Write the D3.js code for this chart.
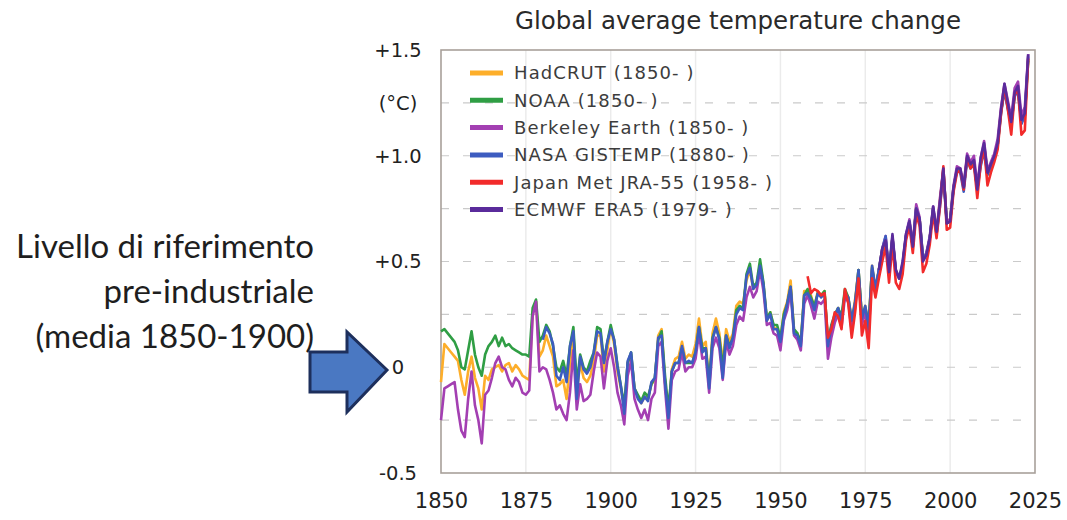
<!DOCTYPE html>
<html>
<head>
<meta charset="utf-8">
<script src="https://cdn.jsdelivr.net/npm/d3@7"></script>
<style>
  body { margin: 0; background: #fff; }
  svg { display: block; }
</style>
</head>
<body>
<svg width="1067" height="520"></svg>
<script>
// anomalies vs 1850-1900 (one value per year from the start year)
const hadcrutStart = 1850
const hadcrut = [
  -0.07, 0.11, 0.09, 0.07, 0.05, 0.03, -0.06, -0.13, -0.02, 0.05,
  -0.05, -0.10, -0.20, -0.04, -0.06, -0.01, 0.00, 0.01, -0.02, 0.01,
  0.02, -0.02, 0.01, -0.01, -0.04, -0.05, -0.06, 0.26, 0.31, 0.05,
  0.08, 0.15, 0.10, 0.05, -0.09, -0.08, -0.06, -0.15, 0.02, 0.15,
  -0.12, 0.02, -0.05, -0.07, -0.04, 0.03, 0.15, 0.15, -0.02, 0.08,
  0.19, 0.11, -0.02, -0.10, -0.19, 0.02, 0.06, -0.10, -0.14, -0.17,
  -0.14, -0.15, -0.08, -0.06, 0.15, 0.18, -0.07, -0.22, -0.01, 0.04,
  0.05, 0.12, 0.04, 0.06, 0.05, 0.11, 0.23, 0.10, 0.12, -0.08,
  0.16, 0.23, 0.16, 0.02, 0.18, 0.12, 0.16, 0.29, 0.31, 0.30,
  0.41, 0.46, 0.37, 0.39, 0.49, 0.39, 0.22, 0.26, 0.19, 0.18,
  0.13, 0.26, 0.31, 0.41, 0.17, 0.16, 0.11, 0.36, 0.36, 0.34,
  0.28, 0.36, 0.34, 0.36, 0.11, 0.19, 0.24, 0.28, 0.23, 0.36,
  0.33, 0.22, 0.32, 0.46, 0.24, 0.29, 0.20, 0.48, 0.37, 0.46,
  0.56, 0.61, 0.44, 0.61, 0.46, 0.42, 0.48, 0.62, 0.68, 0.57,
  0.76, 0.70, 0.52, 0.53, 0.61, 0.75, 0.64, 0.79, 0.93, 0.69,
  0.70, 0.85, 0.93, 0.93, 0.85, 0.99, 0.95, 0.97, 0.84, 0.97,
  1.05, 0.92, 0.95, 0.99, 1.05, 1.21, 1.31, 1.23, 1.15, 1.29,
  1.31, 1.16, 1.19, 1.46
]

const noaaStart = 1850
const noaa = [
  0.17, 0.18, 0.16, 0.14, 0.12, 0.08, 0.00, -0.01, 0.08, 0.17,
  0.06, 0.00, -0.04, 0.06, 0.10, 0.12, 0.15, 0.10, 0.14, 0.10,
  0.11, 0.09, 0.08, 0.07, 0.06, 0.06, 0.05, 0.28, 0.32, 0.12,
  0.15, 0.20, 0.17, 0.10, 0.00, -0.02, 0.03, -0.04, 0.10, 0.19,
  -0.08, 0.06, 0.00, -0.02, 0.03, 0.07, 0.19, 0.18, 0.03, 0.12,
  0.20, 0.13, 0.01, -0.09, -0.18, 0.02, 0.07, -0.10, -0.13, -0.16,
  -0.12, -0.14, -0.08, -0.05, 0.13, 0.17, -0.04, -0.20, -0.02, 0.02,
  0.02, 0.09, 0.02, 0.02, 0.02, 0.07, 0.19, 0.09, 0.09, -0.07,
  0.14, 0.19, 0.14, 0.00, 0.15, 0.10, 0.14, 0.27, 0.29, 0.28,
  0.44, 0.49, 0.38, 0.40, 0.51, 0.40, 0.23, 0.26, 0.20, 0.20,
  0.14, 0.25, 0.30, 0.38, 0.18, 0.16, 0.12, 0.34, 0.37, 0.33,
  0.29, 0.35, 0.34, 0.36, 0.12, 0.20, 0.25, 0.28, 0.24, 0.37,
  0.33, 0.21, 0.30, 0.46, 0.24, 0.28, 0.21, 0.47, 0.37, 0.46,
  0.55, 0.60, 0.45, 0.61, 0.45, 0.42, 0.48, 0.62, 0.68, 0.57,
  0.75, 0.70, 0.51, 0.54, 0.61, 0.75, 0.63, 0.78, 0.93, 0.69,
  0.69, 0.85, 0.93, 0.93, 0.85, 0.99, 0.95, 0.97, 0.84, 0.97,
  1.05, 0.91, 0.95, 0.99, 1.05, 1.21, 1.31, 1.23, 1.15, 1.29,
  1.31, 1.16, 1.19, 1.45
]

const berkeleyStart = 1850
const berkeley = [
  -0.25, -0.10, -0.09, -0.08, -0.07, -0.20, -0.30, -0.33, -0.15, -0.02,
  -0.18, -0.25, -0.36, -0.13, -0.11, -0.05, 0.02, 0.05, 0.00, -0.01,
  -0.06, -0.09, -0.05, -0.07, -0.12, -0.13, -0.11, 0.24, 0.31, -0.02,
  0.00, -0.01, -0.06, -0.12, -0.20, -0.18, -0.22, -0.25, -0.12, 0.08,
  -0.20, -0.08, -0.16, -0.15, -0.13, -0.02, 0.07, 0.05, -0.10, 0.03,
  0.09, 0.00, -0.12, -0.18, -0.27, -0.04, 0.03, -0.15, -0.20, -0.24,
  -0.20, -0.25, -0.15, -0.12, 0.10, 0.12, -0.10, -0.29, -0.06, -0.02,
  -0.01, 0.07, -0.02, 0.00, 0.00, 0.04, 0.16, 0.04, 0.05, -0.12,
  0.09, 0.14, 0.09, -0.06, 0.12, 0.06, 0.10, 0.20, 0.24, 0.22,
  0.33, 0.38, 0.33, 0.36, 0.46, 0.36, 0.20, 0.21, 0.16, 0.15,
  0.08, 0.22, 0.27, 0.36, 0.15, 0.13, 0.08, 0.30, 0.34, 0.29,
  0.23, 0.31, 0.30, 0.32, 0.04, 0.14, 0.21, 0.25, 0.19, 0.33,
  0.31, 0.17, 0.28, 0.44, 0.20, 0.26, 0.15, 0.46, 0.35, 0.46,
  0.56, 0.62, 0.44, 0.62, 0.45, 0.42, 0.49, 0.63, 0.70, 0.58,
  0.77, 0.71, 0.51, 0.54, 0.62, 0.76, 0.64, 0.80, 0.94, 0.69,
  0.70, 0.86, 0.95, 0.94, 0.86, 1.01, 0.97, 1.00, 0.86, 0.99,
  1.07, 0.93, 0.97, 1.01, 1.08, 1.23, 1.34, 1.26, 1.18, 1.32,
  1.35, 1.19, 1.23, 1.48
]

const nasaStart = 1880
const nasa = [
  0.13, 0.19, 0.16, 0.11, -0.04, -0.06, 0.00, -0.07, 0.10, 0.17,
  -0.15, 0.05, -0.01, -0.03, 0.00, 0.07, 0.17, 0.16, 0.02, 0.12,
  0.18, 0.13, 0.00, -0.09, -0.22, 0.03, 0.07, -0.10, -0.15, -0.17,
  -0.14, -0.16, -0.07, -0.05, 0.14, 0.15, -0.07, -0.24, -0.02, 0.02,
  0.02, 0.10, 0.02, 0.03, 0.02, 0.07, 0.19, 0.07, 0.09, -0.10,
  0.13, 0.19, 0.13, -0.05, 0.15, 0.09, 0.14, 0.25, 0.28, 0.27,
  0.43, 0.47, 0.37, 0.39, 0.48, 0.39, 0.22, 0.25, 0.18, 0.18,
  0.12, 0.23, 0.30, 0.38, 0.16, 0.15, 0.10, 0.34, 0.35, 0.32,
  0.27, 0.35, 0.33, 0.35, 0.10, 0.19, 0.24, 0.28, 0.22, 0.35,
  0.33, 0.22, 0.31, 0.46, 0.23, 0.29, 0.18, 0.48, 0.37, 0.46,
  0.56, 0.62, 0.44, 0.61, 0.46, 0.42, 0.48, 0.62, 0.69, 0.57,
  0.75, 0.70, 0.52, 0.53, 0.61, 0.75, 0.63, 0.76, 0.91, 0.68,
  0.69, 0.84, 0.93, 0.92, 0.83, 0.98, 0.94, 0.96, 0.84, 0.95,
  1.02, 0.91, 0.95, 0.98, 1.05, 1.20, 1.31, 1.22, 1.15, 1.28,
  1.31, 1.15, 1.19, 1.47
]

const jraStart = 1958
const jra = [
  0.43, 0.35, 0.37, 0.36, 0.34, 0.35, 0.14, 0.18, 0.26, 0.24,
  0.18, 0.37, 0.30, 0.14, 0.26, 0.42, 0.15, 0.22, 0.09, 0.42,
  0.33, 0.42, 0.50, 0.57, 0.40, 0.58, 0.40, 0.37, 0.44, 0.60,
  0.67, 0.54, 0.72, 0.67, 0.45, 0.49, 0.58, 0.73, 0.61, 0.76,
  0.95, 0.65, 0.66, 0.83, 0.92, 0.93, 0.84, 0.99, 0.94, 0.96,
  0.80, 0.96, 1.04, 0.86, 0.92, 0.97, 1.03, 1.20, 1.33, 1.22,
  1.10, 1.29, 1.31, 1.10, 1.12, 1.46
]

const era5Start = 1979
const era5 = [
  0.46, 0.56, 0.60, 0.45, 0.63, 0.46, 0.42, 0.50, 0.63, 0.69,
  0.57, 0.75, 0.70, 0.50, 0.53, 0.61, 0.76, 0.64, 0.78, 0.94,
  0.68, 0.69, 0.85, 0.94, 0.94, 0.85, 1.00, 0.96, 0.98, 0.84,
  0.99, 1.06, 0.92, 0.96, 1.00, 1.06, 1.22, 1.34, 1.25, 1.16,
  1.30, 1.33, 1.17, 1.20, 1.48
]

const seriesNames = ["HadCRUT (1850- )", "NOAA (1850- )", "Berkeley Earth (1850- )",
  "NASA GISTEMP (1880- )", "Japan Met JRA-55 (1958- )", "ECMWF ERA5 (1979- )"]
const seriesColors = ["#fdae2a", "#2f9e44", "#a33fb2", "#3d5cc0", "#f22b2b", "#5a2b9b"]
const seriesValues = [hadcrut, noaa, berkeley, nasa, jra, era5]
const seriesStarts = [hadcrutStart, noaaStart, berkeleyStart, nasaStart, jraStart, era5Start]

const xTicks = [1850, 1875, 1900, 1925, 1950, 1975, 2000, 2025]
const yGrid = [-0.25, 0, 0.25, 0.5, 0.75, 1.0, 1.25]
const yTickValues = [1.5, 1.25, 1.0, 0.5, 0, -0.5]
const yTickLabels = ["+1.5", "(°C)", "+1.0", "+0.5", "0", "-0.5"]

const noteLines = ["Livello di riferimento", "pre-industriale", "(media 1850-1900)"]

let svg = d3.select("svg")

let x = d3.scaleLinear().domain([1850, 2025]).range([441, 1035])
let y = d3.scaleLinear().domain([-0.5, 1.5]).range([473, 50])

// title
svg.append("text")
   .attr("x", 738)
   .attr("y", 29)
   .attr("text-anchor", "middle")
   .style("font-family", "DejaVu Sans")
   .style("font-size", "24.5px")
   .attr("fill", "#2a2a2a")
   .text("Global average temperature change")

// grid
svg.append("g")
   .selectAll("line")
   .data(xTicks.slice(1, -1))
   .enter()
   .append("line")
   .attr("x1", d => x(d))
   .attr("x2", d => x(d))
   .attr("y1", y(1.5))
   .attr("y2", y(-0.5))
   .attr("stroke", "#ebebeb")
   .attr("stroke-width", 1.5)

svg.append("g")
   .selectAll("line")
   .data(yGrid)
   .enter()
   .append("line")
   .attr("x1", x(1850))
   .attr("x2", x(2025))
   .attr("y1", d => y(d))
   .attr("y2", d => y(d))
   .attr("stroke", "#cacaca")
   .attr("stroke-width", 1.2)
   .attr("stroke-dasharray", "8,14")

// frame
svg.append("rect")
   .attr("x", x(1850))
   .attr("y", y(1.5))
   .attr("width", x(2025) - x(1850))
   .attr("height", y(-0.5) - y(1.5))
   .attr("fill", "none")
   .attr("stroke", "#a8a09a")
   .attr("stroke-width", 1.6)

// lines
let line = d3.line()
             .x(d => x(d.year))
             .y(d => y(d.value))

seriesValues.forEach((vals, i) => {
  let pts = vals.map((v, k) => ({ year: seriesStarts[i] + k, value: v }))
  svg.append("path")
     .datum(pts)
     .attr("d", line)
     .attr("fill", "none")
     .attr("stroke", seriesColors[i])
     .attr("stroke-width", 2.6)
     .attr("stroke-linejoin", "round")
})

// axes
let xAxis = svg.append("g")
               .attr("transform", `translate(0, ${y(-0.5) + 17})`)
               .call(d3.axisBottom(x).tickValues(xTicks).tickFormat(d3.format("d")).tickSize(0))
xAxis.select(".domain").remove()
xAxis.selectAll("text")
     .style("font-family", "DejaVu Sans")
     .style("font-size", "21px")
     .attr("fill", "#222")

let yAxis = svg.append("g")
               .attr("transform", "translate(398, 0)")
               .call(d3.axisLeft(y).tickValues(yTickValues)
                        .tickFormat((d, i) => yTickLabels[i]).tickSize(0).tickPadding(0))
yAxis.select(".domain").remove()
yAxis.selectAll("text")
     .attr("text-anchor", "middle")
     .style("font-family", "DejaVu Sans")
     .style("font-size", "19.5px")
     .attr("fill", "#222")

// legend
let legend = svg.append("g")
                .attr("transform", "translate(470, 73)")

legend.selectAll("line")
      .data(seriesNames)
      .enter()
      .append("line")
      .attr("x1", 0)
      .attr("x2", 33)
      .attr("y1", (d, i) => i * 27.3)
      .attr("y2", (d, i) => i * 27.3)
      .attr("stroke", (d, i) => seriesColors[i])
      .attr("stroke-width", 5)

legend.selectAll("text")
      .data(seriesNames)
      .enter()
      .append("text")
      .attr("x", 44)
      .attr("y", (d, i) => i * 27.3)
      .attr("dy", "0.36em")
      .style("font-family", "DejaVu Sans")
      .style("font-size", "18px")
      .style("letter-spacing", "1.1px")
      .attr("fill", "#3c3c3c")
      .text(d => d)

// pre-industrial note
svg.append("g")
   .selectAll("text")
   .data(noteLines)
   .enter()
   .append("text")
   .attr("x", 314)
   .attr("y", (d, i) => 258 + i * 45)
   .attr("text-anchor", "end")
   .style("font-family", "Lato")
   .style("font-size", "33px")
   .attr("fill", "#1e1e1e")
   .text(d => d)

// arrow pointing at 0
svg.append("path")
   .attr("d", "M310,352 L347,352 L347,332 L387,370 L347,412 L347,392 L310,392 Z")
   .attr("fill", "#4a78c2")
   .attr("stroke", "#1d2f5c")
   .attr("stroke-width", 3)
   .attr("stroke-linejoin", "miter")
</script>
</body>
</html>
